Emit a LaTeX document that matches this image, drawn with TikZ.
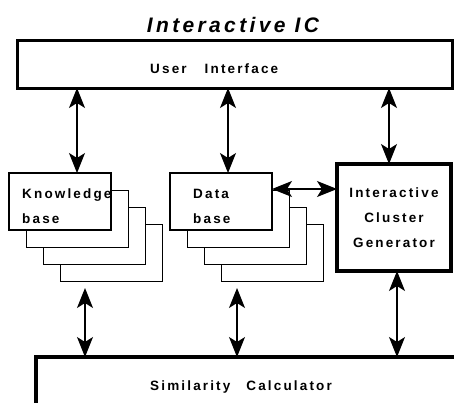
\documentclass[tikz,border=0pt]{standalone}
\usepackage{fontspec}
\setmainfont{Liberation Sans}
\newfontfamily\diafont[LetterSpace=16]{Liberation Sans}
\usetikzlibrary{arrows.meta,positioning}

\tikzset{
  box/.style={draw, fill=white, inner sep=0pt, outer sep=0pt, anchor=north west},
  sheet/.style={box, line width=1pt, minimum width=102pt, minimum height=57pt},
  dbl/.style={{Stealth[length=20pt,width=16pt,inset=5pt]}-{Stealth[length=20pt,width=16pt,inset=5pt]}, line width=1.2pt},
  lbl/.style={font=\diafont\bfseries\fontsize{13.5}{25}\selectfont, inner sep=0pt, align=left}
}

\begin{document}
\begin{tikzpicture}[x=1pt, y=-1pt]
    % Size of the scanned page
    \useasboundingbox (0,0) rectangle (454,402);
    \clip (0,0) rectangle (454,402);

    % Title
    \node[lbl, font=\diafont\bfseries\itshape\fontsize{21}{25}\selectfont, anchor=base] (title) at (233,32) {Interactive IC};

    % User interface
    \node[box, line width=3pt, minimum width=435pt, minimum height=48pt] (ui) at (17,40) {};
    \node[lbl, anchor=base west] (uitext) at (150,73) {User\hspace{18pt}Interface};

    % Knowledge base with its sheets behind
    \def\off{17}
    \foreach \i in {3,2,1}
        \node[sheet] (kb\i) at ({9+\off*\i},{173+\off*\i}) {};
    \node[sheet, line width=1.5pt] (kb) at (9,173) {};
    \node[lbl, anchor=base west] (kbtext) at (22,223) {Knowledge\\base};

    % Data base with its sheets behind
    \foreach \i in {3,2,1}
        \node[sheet] (db\i) at ({170+\off*\i},{173+\off*\i}) {};
    \node[sheet, line width=1.5pt] (db) at (170,173) {};
    \node[lbl, anchor=base west] (dbtext) at (193,223) {Data\\base};

    % Interactive cluster generator
    \node[box, lbl, align=center, line width=4pt, minimum width=114pt, minimum height=107pt] (icg) at (337,164) {Interactive\\Cluster\\Generator};

    % Similarity calculator, runs off the page
    \node[box, line width=3.5pt, minimum width=440pt, minimum height=80pt] (sim) at (36,357) {};
    \node[lbl, anchor=base west] (simtext) at (150,390) {Similarity\hspace{16pt}Calculator};

    % Arrows to the user interface
    \draw[dbl] ([xshift=68pt]kb.north west |- ui.south) -- ([xshift=68pt]kb.north west);
    \draw[dbl] ([xshift=58pt]db.north west |- ui.south) -- ([xshift=58pt]db.north west);
    \draw[dbl] ([xshift=-5pt]icg.north |- ui.south) -- ([xshift=-5pt]icg.north);

    % Data base to generator
    \draw[dbl] ([yshift=-16pt]db.north east) -- ([yshift=-16pt]db.north east -| icg.west);

    % Arrows to the similarity calculator
    \draw[dbl] ([xshift=25pt, yshift=-7pt]kb3.south west) -- ([xshift=25pt]kb3.south west |- sim.north);
    \draw[dbl] ([xshift=16pt, yshift=-7pt]db3.south west) -- ([xshift=16pt]db3.south west |- sim.north);
    \draw[dbl] ([xshift=3pt]icg.south) -- ([xshift=3pt]icg.south |- sim.north);
\end{tikzpicture}
\end{document}
